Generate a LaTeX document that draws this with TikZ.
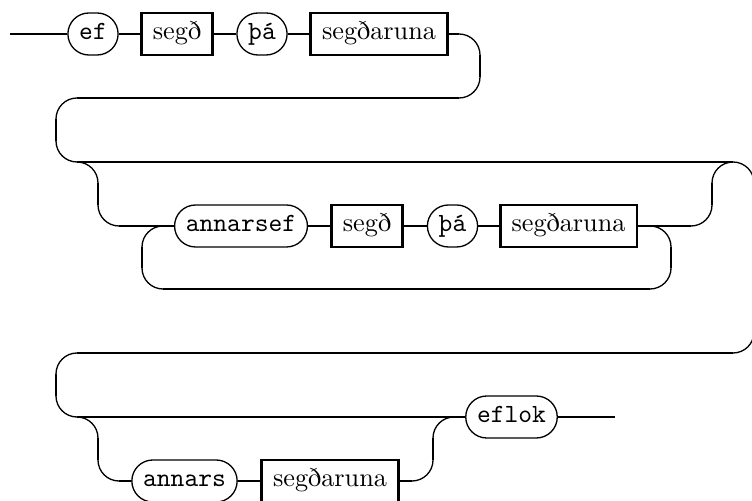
\documentclass[tikz,border=0pt]{standalone}
\usepackage{fontspec}
\begin{document}
\begin{tikzpicture}[x=0.38095pt,y=0.38095pt,
  railline/.style={line width=1pt},
  railarc/.style={line width=0.5pt, rounded corners=8pt},
  seg/.style={railline, shorten <=8pt, shorten >=8pt},
  segin/.style={railline, shorten <=8pt},
  segout/.style={railline, shorten >=8pt},
  nonterm/.style={draw, line width=1pt, rectangle, minimum height=16pt,
    inner xsep=1ex, inner ysep=0pt, text height=6pt, text depth=2pt,
    font=\rmfamily},
  term/.style={draw, line width=0.5pt, rectangle, rounded corners=8pt,
    minimum height=16pt, minimum width=16pt, inner xsep=1ex, inner ysep=0pt,
    text height=6pt, text depth=2pt, font=\ttfamily},
]
\useasboundingbox (0,0) rectangle (752,501);

% ---- nodes ----
\node[term]    (ef)       at (93,467)    {ef};
\node[nonterm] (sg1)      at (177,467)   {segð};
\node[term]    (tha1)     at (262,467)   {þá};
\node[nonterm] (sr1)      at (379,467)   {segðaruna};

\node[term]    (annarsef) at (241,275)   {annarsef};
\node[nonterm] (sg2)      at (367,275)   {segð};
\node[term]    (tha2)     at (452.5,275) {þá};
\node[nonterm] (sr2)      at (568.5,275) {segðaruna};

\node[term]    (eflok)    at (511.5,84)  {eflok};
\node[term]    (annars)   at (184.5,20)  {annars};
\node[nonterm] (sr3)      at (330,20)    {segðaruna};

% ---- route corners and junctions ----
\coordinate (in)  at (10,467);
\coordinate (out) at (615,84);
\coordinate (a1) at (480,467);
\coordinate (a2) at (480,403);
\coordinate (a3) at (56,403);
\coordinate (a4) at (56,339);
\coordinate (a5) at (754,339);
\coordinate (a6) at (754,148);
\coordinate (a7) at (56,148);
\coordinate (a8) at (56,84);

\coordinate (jA) at (77,339);
\coordinate (b1) at (98,339);
\coordinate (b2) at (98,275);
\coordinate (b3) at (712,275);
\coordinate (b4) at (712,339);
\coordinate (jB) at (733,339);

\coordinate (jC) at (650,275);
\coordinate (l1) at (671,275);
\coordinate (l2) at (671,212);
\coordinate (l3) at (142,212);
\coordinate (l4) at (142,275);
\coordinate (jD) at (163,275);

\coordinate (jE) at (77,84);
\coordinate (d1) at (98,84);
\coordinate (d2) at (98,20);
\coordinate (d3) at (433,20);
\coordinate (d4) at (433,84);
\coordinate (jF) at (454,84);

% ---- first row ----
\draw[railline] (in) -- (ef.west);
\draw[railline] (ef.east) -- (sg1.west);
\draw[railline] (sg1.east) -- (tha1.west);
\draw[railline] (tha1.east) -- (sr1.west);

% ---- main track: bends drawn thin, straight runs thick ----
\draw[railarc] (sr1.east) -- (a1) -- (a2) -- (a3) -- (a4) -- (a5) -- (a6)
  -- (a7) -- (a8) -- (eflok.west);
\draw[segout] (sr1.east) -- (a1);
\draw[seg] (a1) -- (a2);
\draw[seg] (a2) -- (a3);
\draw[seg] (a3) -- (a4);
\draw[seg] (a4) -- (a5);
\draw[seg] (a5) -- (a6);
\draw[seg] (a6) -- (a7);
\draw[seg] (a7) -- (a8);
\draw[segin] (a8) -- (eflok.west);
\draw[railline] (eflok.east) -- (out);

% ---- repeated annarsef group ----
\draw[railarc] (jA) -- (b1) -- (b2) -- (annarsef.west);
\draw[seg] (b1) -- (b2);
\draw[segin] (b2) -- (annarsef.west);
\draw[railline] (annarsef.east) -- (sg2.west);
\draw[railline] (sg2.east) -- (tha2.west);
\draw[railline] (tha2.east) -- (sr2.west);
\draw[railarc] (sr2.east) -- (b3) -- (b4) -- (jB);
\draw[segout] (sr2.east) -- (b3);
\draw[seg] (b3) -- (b4);

% loop back under the group
\draw[railarc] (jC) -- (l1) -- (l2) -- (l3) -- (l4) -- (jD);
\draw[seg] (l1) -- (l2);
\draw[seg] (l2) -- (l3);
\draw[seg] (l3) -- (l4);

% ---- optional annars branch ----
\draw[railarc] (jE) -- (d1) -- (d2) -- (annars.west);
\draw[seg] (d1) -- (d2);
\draw[segin] (d2) -- (annars.west);
\draw[railline] (annars.east) -- (sr3.west);
\draw[railarc] (sr3.east) -- (d3) -- (d4) -- (jF);
\draw[segout] (sr3.east) -- (d3);
\draw[seg] (d3) -- (d4);
\end{tikzpicture}
\end{document}
